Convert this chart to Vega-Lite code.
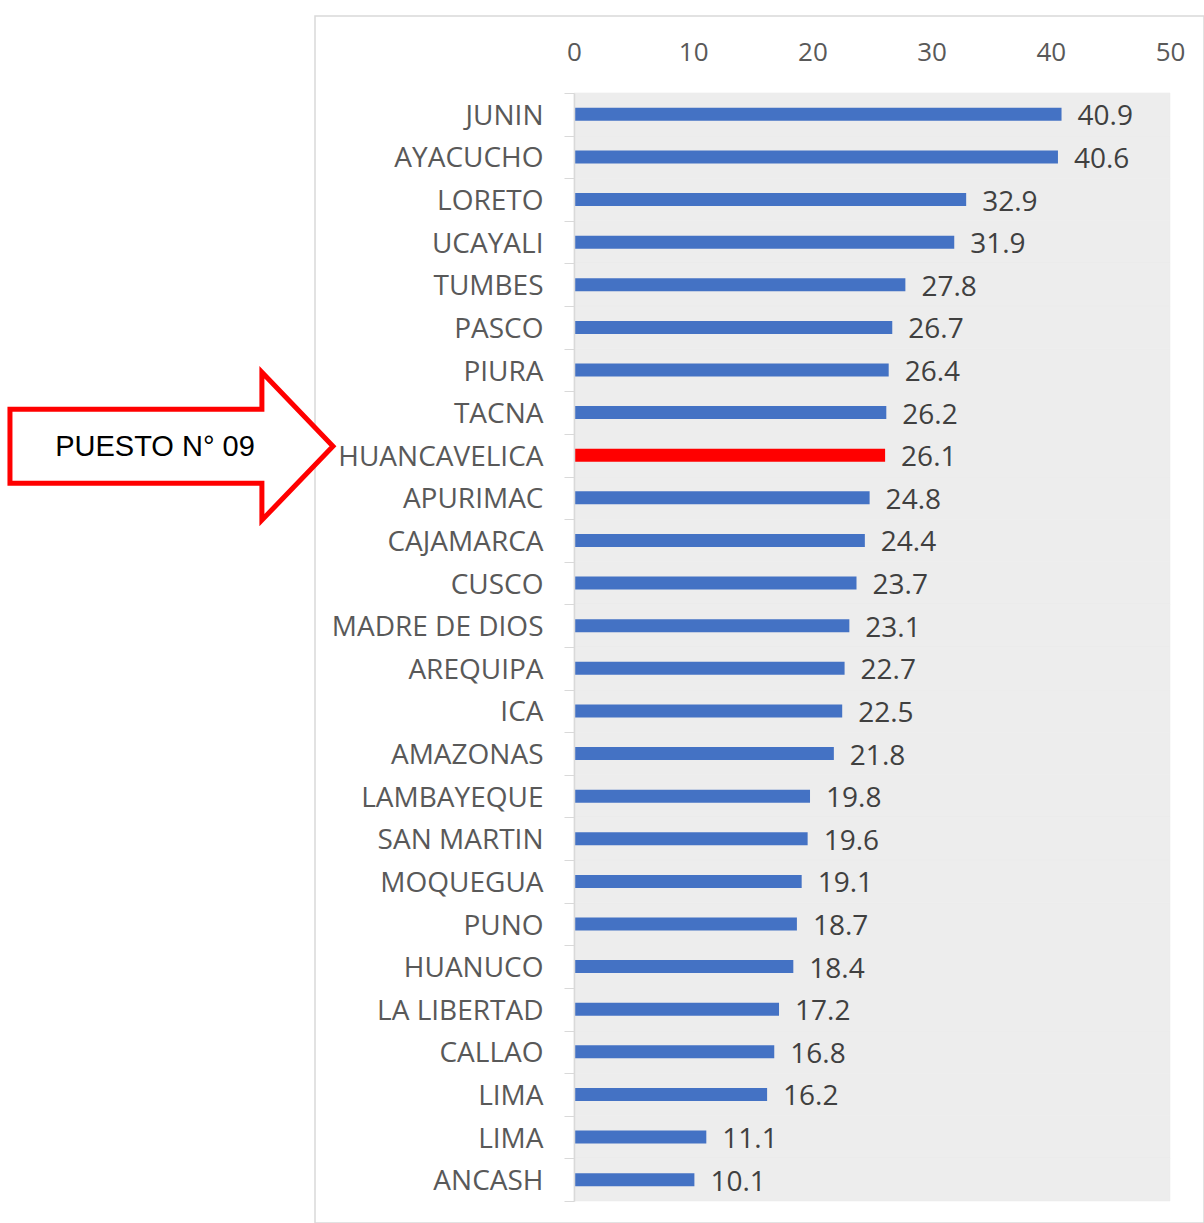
{
  "$schema": "https://vega.github.io/schema/vega-lite/v6.json",
  "width": 889,
  "height": 1207,
  "autosize": {"type": "none"},
  "padding": {"left": 315, "top": 16, "right": 0, "bottom": 0},
  "background": "white",
  "config": {"view": {"stroke": "#d9d9d9", "strokeWidth": 1.5, "fill": "white"}},
  "data": {"values": [
    {"key": "JUNIN", "v": 40.9, "sel": "n"},
    {"key": "AYACUCHO", "v": 40.6, "sel": "n"},
    {"key": "LORETO", "v": 32.9, "sel": "n"},
    {"key": "UCAYALI", "v": 31.9, "sel": "n"},
    {"key": "TUMBES", "v": 27.8, "sel": "n"},
    {"key": "PASCO", "v": 26.7, "sel": "n"},
    {"key": "PIURA", "v": 26.4, "sel": "n"},
    {"key": "TACNA", "v": 26.2, "sel": "n"},
    {"key": "HUANCAVELICA", "v": 26.1, "sel": "y"},
    {"key": "APURIMAC", "v": 24.8, "sel": "n"},
    {"key": "CAJAMARCA", "v": 24.4, "sel": "n"},
    {"key": "CUSCO", "v": 23.7, "sel": "n"},
    {"key": "MADRE DE DIOS", "v": 23.1, "sel": "n"},
    {"key": "AREQUIPA", "v": 22.7, "sel": "n"},
    {"key": "ICA", "v": 22.5, "sel": "n"},
    {"key": "AMAZONAS", "v": 21.8, "sel": "n"},
    {"key": "LAMBAYEQUE", "v": 19.8, "sel": "n"},
    {"key": "SAN MARTIN", "v": 19.6, "sel": "n"},
    {"key": "MOQUEGUA", "v": 19.1, "sel": "n"},
    {"key": "PUNO", "v": 18.7, "sel": "n"},
    {"key": "HUANUCO", "v": 18.4, "sel": "n"},
    {"key": "LA LIBERTAD", "v": 17.2, "sel": "n"},
    {"key": "CALLAO", "v": 16.8, "sel": "n"},
    {"key": "LIMA", "v": 16.2, "sel": "n"},
    {"key": "LIMA_2", "v": 11.1, "sel": "n"},
    {"key": "ANCASH", "v": 10.1, "sel": "n"}
  ]},
  "encoding": {
    "y": {
      "field": "key",
      "type": "nominal",
      "sort": null,
      "scale": {"range": [77, 1185], "paddingInner": 0, "paddingOuter": 0},
      "axis": {
        "orient": "left",
        "offset": -259,
        "title": null,
        "labelExpr": "replace(datum.label, '_2', '')",
        "labelFont": "Open Sans",
        "labelFontSize": 28,
        "labelColor": "#595959",
        "labelPadding": 21,
        "labelOffset": 2,
        "labelLimit": 500,
        "tickSize": 10,
        "tickColor": "#d9d9d9",
        "tickBand": "extent",
        "domainColor": "#d9d9d9",
        "domainWidth": 1.5,
        "grid": false
      }
    },
    "x": {
      "field": "v",
      "type": "quantitative",
      "scale": {"domain": [0, 50], "range": [259, 855], "nice": false},
      "axis": {
        "orient": "top",
        "offset": -49,
        "values": [0, 10, 20, 30, 40, 50],
        "title": null,
        "domain": false,
        "ticks": false,
        "tickSize": 0,
        "grid": false,
        "labelFlush": false,
        "labelPadding": 0,
        "labelFont": "Open Sans",
        "labelFontSize": 26,
        "labelColor": "#595959"
      }
    }
  },
  "layer": [
    {
      "mark": {"type": "rect", "fill": "#ededed", "stroke": "#ededed", "strokeWidth": 0.6},
      "encoding": {"x": {"datum": 0, "type": "quantitative"}, "x2": {"datum": 50}}
    },
    {
      "mark": {"type": "bar", "size": 13},
      "encoding": {
        "color": {"field": "sel", "type": "nominal", "scale": {"domain": ["n", "y"], "range": ["#4472C4", "#FF0000"]}, "legend": null}
      }
    },
    {
      "mark": {"type": "text", "align": "left", "baseline": "middle", "dx": 16, "dy": 3, "font": "Open Sans", "fontSize": 28, "color": "#404040"},
      "encoding": {"text": {"field": "v", "type": "quantitative", "format": ".1f"}}
    },
    {
      "transform": [{"filter": "datum.sel == 'y'"}],
      "mark": {
        "type": "point",
        "shape": "M-1,-0.285L0.56,-0.285L0.56,-0.514L1,-0.056L0.56,0.402L0.56,0.173L-1,0.173Z",
        "size": 104329,
        "filled": false,
        "fill": "white",
        "stroke": "#FF0000",
        "strokeWidth": 5,
        "opacity": 1,
        "clip": false
      },
      "encoding": {
        "x": {"datum": -33.77, "type": "quantitative"}
      }
    },
    {
      "transform": [{"filter": "datum.sel == 'y'"}],
      "mark": {"type": "text", "align": "center", "baseline": "middle", "font": "Liberation Sans", "fontSize": 29, "color": "#000000", "dy": -8, "clip": false},
      "encoding": {
        "x": {"datum": -35.15, "type": "quantitative"},
        "text": {"value": "PUESTO N° 09"}
      }
    }
  ]
}
